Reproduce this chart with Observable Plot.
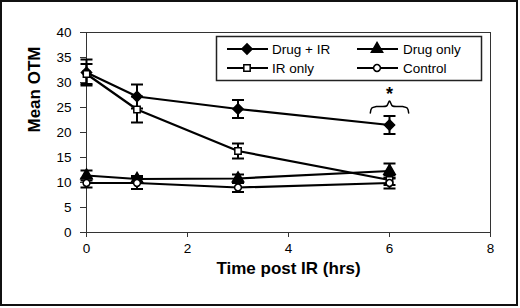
<!DOCTYPE html>
<html>
<head>
<meta charset="utf-8">
<script src="https://cdn.jsdelivr.net/npm/d3@7"></script>
<script src="https://cdn.jsdelivr.net/npm/@observablehq/plot@0.6"></script>
<style>
  html, body { margin: 0; padding: 0; background: #fff; }
  #wrap { position: relative; width: 520px; height: 308px; }
  #wrap svg { position: absolute; left: 0; top: 0; }
  #border { position: absolute; left: 0; top: 0; width: 518px; height: 306px; box-sizing: border-box; border: 2px solid #111; pointer-events: none; }
</style>
</head>
<body>
<div id="wrap"><div id="border"></div></div>
<script>
// ---- data ----
const times = [0, 1, 3, 6];
const seriesNames = ["Drug + IR", "Drug only", "IR only", "Control"];
const drugIR = [32.0, 27.2, 24.7, 21.5];
const drugIRErr = [2.6, 2.4, 1.8, 1.8];
const irOnly = [31.7, 24.6, 16.3, 10.5];
const irOnlyErr = [2.0, 2.6, 1.5, 1.0];
const drugOnly = [11.4, 10.7, 10.8, 12.3];
const drugOnlyErr = [1.0, 0.6, 0.8, 1.5];
const control = [9.9, 9.9, 9.0, 9.9];
const controlErr = [0.9, 1.2, 0.9, 1.1];
const xTicks = [0, 2, 4, 6, 8];
const yTicks = [0, 5, 10, 15, 20, 25, 30, 35, 40];
const braceX = [5.62, 5.65, 5.74, 5.94, 6.0, 6.06, 6.26, 6.35, 6.38];
const braceY = [23.9, 24.9, 25.2, 25.3, 26.3, 25.3, 25.2, 24.9, 23.9];
const starLabel = "*";

const font = "Liberation Sans, Arial, sans-serif";

const valuesBy = {"Drug + IR": [drugIR, drugIRErr], "Drug only": [drugOnly, drugOnlyErr], "IR only": [irOnly, irOnlyErr], "Control": [control, controlErr]};
const rows = seriesNames.flatMap(s => times.map((t, i) => ({
  series: s, t, v: valuesBy[s][0][i], lo: valuesBy[s][0][i] - valuesBy[s][1][i], hi: valuesBy[s][0][i] + valuesBy[s][1][i]
})));
const brace = braceX.map((x, i) => ({x, y: braceY[i]}));

const cap = {draw(ctx, size) { const r = Math.sqrt(size / Math.PI); ctx.moveTo(-r, 0); ctx.lineTo(r, 0); }};
const style = {
  "Drug + IR": {symbol: "diamond2", fill: "#000", r: 4.6},
  "Drug only": {symbol: "triangle", fill: "#000", r: 4.2},
  "IR only": {symbol: "square", fill: "#fff", r: 3.6},
  "Control": {symbol: "circle", fill: "#fff", r: 3.4}
};

const markerMarks = seriesNames.map(s => Plot.dot(rows.filter(d => d.series === s), {
  x: "t", y: "v", symbol: () => style[s].symbol, r: style[s].r, fill: style[s].fill, stroke: "#000", strokeWidth: 1.5
}));

const svg = Plot.plot({
  width: 520, height: 308,
  marginLeft: 86, marginRight: 30, marginTop: 32, marginBottom: 76,
  style: {fontFamily: font, background: "transparent", overflow: "visible"},
  x: {domain: [0, 8]},
  y: {domain: [0, 40]},
  symbol: {type: "identity"},
  marks: [
    Plot.frame({stroke: "#333", strokeWidth: 1}),
    Plot.axisY({ticks: yTicks, tickSize: 6, tickPadding: 9, fontSize: 13.5, label: null, stroke: "#333", color: "#000"}),
    Plot.axisX({ticks: xTicks, tickSize: 5, tickPadding: 6, fontSize: 13.5, label: null, stroke: "#333", color: "#000"}),
    Plot.text(["Mean OTM"], {frameAnchor: "left", rotate: -90, dx: -52, fontSize: 17, fontWeight: "bold", fill: "#000"}),
    Plot.text(["Time post IR (hrs)"], {frameAnchor: "bottom", dy: 41, fontSize: 17, fontWeight: "bold", fill: "#000"}),
    Plot.ruleX(rows, {x: "t", y1: "lo", y2: "hi", stroke: "#000", strokeWidth: 2}),
    Plot.dot(rows, {x: "t", y: "hi", symbol: cap, r: 6, stroke: "#000", strokeWidth: 2, fill: "none"}),
    Plot.dot(rows, {x: "t", y: "lo", symbol: cap, r: 6, stroke: "#000", strokeWidth: 2, fill: "none"}),
    Plot.line(rows, {x: "t", y: "v", z: "series", stroke: "#000", strokeWidth: 2.2}),
    ...markerMarks,
    Plot.line(brace, {x: "x", y: "y", curve: "catmull-rom", stroke: "#000", strokeWidth: 1.5}),
    Plot.text([starLabel], {x: () => 6, y: () => 27.6, fontSize: 18, fontWeight: "bold", fill: "#000"})
  ]
});
document.getElementById("wrap").prepend(svg);

// ---- legend (drawn inside the plot area) ----
const g = d3.select(svg).append("g").attr("font-family", font).attr("font-size", 13.5).attr("text-anchor", "start");
g.append("rect").attr("x", 216.5).attr("y", 36.5).attr("width", 265).attr("height", 44)
  .attr("fill", "#fff").attr("stroke", "#222").attr("stroke-width", 1.5);
const legendPos = [
  {s: "Drug + IR", x0: 227, xm: 247, x1: 268, tx: 272, y: 49},
  {s: "Drug only", x0: 357, xm: 377, x1: 398, tx: 403, y: 49},
  {s: "IR only", x0: 227, xm: 247, x1: 268, tx: 272, y: 68},
  {s: "Control", x0: 357, xm: 377, x1: 398, tx: 403, y: 68}
];
const d3sym = {diamond2: d3.symbolDiamond2, triangle: d3.symbolTriangle, square: d3.symbolSquare, circle: d3.symbolCircle};
for (const p of legendPos) {
  const st = style[p.s];
  g.append("line").attr("x1", p.x0).attr("x2", p.x1).attr("y1", p.y).attr("y2", p.y).attr("stroke", "#000").attr("stroke-width", 2);
  g.append("path").attr("d", d3.symbol(d3sym[st.symbol], st.r * st.r * Math.PI)())
    .attr("transform", `translate(${p.xm},${p.y})`).attr("fill", st.fill).attr("stroke", "#000").attr("stroke-width", 1.5);
  g.append("text").attr("x", p.tx).attr("y", p.y).attr("dy", "0.35em").attr("text-anchor", "start").attr("fill", "#000").text(p.s);
}
</script>
</body>
</html>
